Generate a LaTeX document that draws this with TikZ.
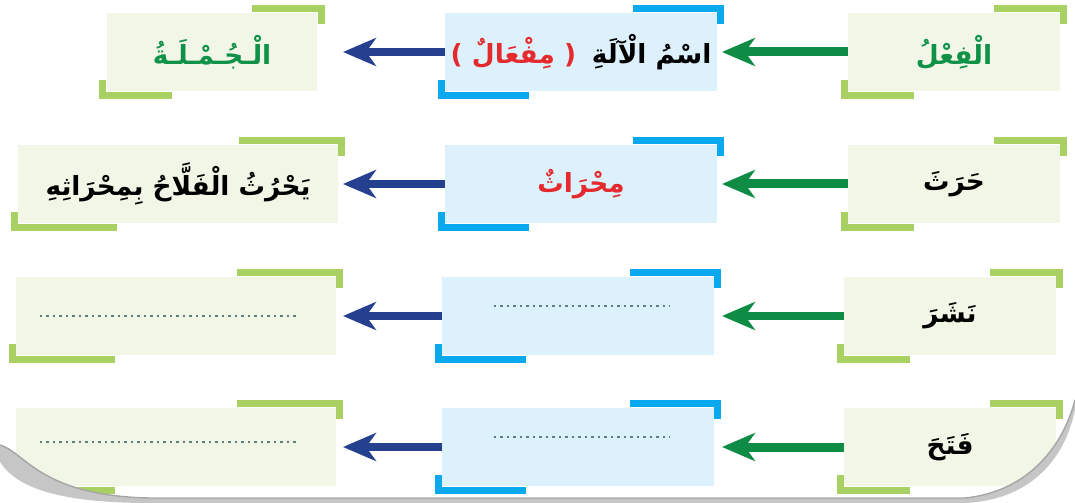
\documentclass[tikz,border=0pt]{standalone}
\usepackage{fontspec}
\usepackage{tikz,xcolor}
\usetikzlibrary{arrows.meta,calc}
\TeXXeTstate=1
\newfontfamily\arabicfont[Script=Arabic]{DejaVu Sans}
\newfontfamily\parenfont{DejaVu Sans}
\definecolor{greenfill}{HTML}{F1F6E7}
\definecolor{greencorner}{HTML}{A9D063}
\definecolor{bluefill}{HTML}{DDF1FC}
\definecolor{bluecorner}{HTML}{0AA8EC}
\definecolor{greenarrow}{HTML}{0E8C46}
\definecolor{bluearrow}{HTML}{24408F}
\definecolor{greentext}{HTML}{0F9147}
\definecolor{redtext}{HTML}{E52A2D}
\definecolor{dotcolor}{HTML}{5E7F80}
\newcommand{\artext}[1]{{\arabicfont\bfseries\beginR #1\endR}}

\begin{document}
\begin{tikzpicture}[x=0.02cm,y=-0.02cm,
    every node/.style={inner sep=0pt,minimum height=1.58cm,font=\fontsize{15}{18}\selectfont},
    verbbox/.style={fill=greenfill,minimum width=4.24cm},
    toolbox/.style={fill=bluefill,minimum width=5.44cm},
    sentbox/.style={fill=greenfill,minimum width=6.4cm},
    greenbr/.style={draw=greencorner,line width=0.14cm},
    bluebr/.style={draw=bluecorner,line width=0.14cm},
    toolarrow/.style={draw=greenarrow,line width=0.18cm,-{Stealth[length=0.66cm,width=0.56cm,inset=0.2cm]}},
    sentarrow/.style={draw=bluearrow,line width=0.17cm,-{Stealth[length=0.66cm,width=0.56cm,inset=0.2cm]}},
    dotline/.style={draw=dotcolor,line width=1.7pt,dash pattern=on 1.5pt off 2.2pt}]
    \useasboundingbox (0,0) rectangle (1075,503);

	% create the nodes
    \node (verb1)[verbbox, text=greentext] at (954,52) {\artext{الْفِعْلُ}};
    \node (tool1)[toolbox] at (581,52) {{\parenfont\bfseries\color{redtext}( \artext{مِفْعَالٌ} )}\ \ \artext{اسْمُ الْآلَةِ}};
    \node (sent1)[verbbox, minimum width=4.22cm, text=greentext] at (212,52) {\artext{الْـجُـمْـلَـةُ}};

    \node (verb2)[verbbox] at (954,184) {\artext{حَرَثَ}};
    \node (tool2)[toolbox, text=redtext] at (581,184) {\artext{مِحْرَاثٌ}};
    \node (sent2)[sentbox] at (178,184) {\artext{يَحْرُثُ الْفَلَّاحُ بِمِحْرَاثِهِ}};

    \node (verb3)[verbbox] at (950,316) {\artext{نَشَرَ}};
    \node (tool3)[toolbox] at (578,316) {};
    \node (sent3)[sentbox] at (176,316) {};

    \node (verb4)[verbbox] at (950,447) {\artext{فَتَحَ}};
    \node (tool4)[toolbox] at (578,447) {};
    \node (sent4)[sentbox] at (176,447) {};

    \coordinate (greentip) at (722,0);
    \coordinate (bluetip) at (343,0);

	% corner marks
    \foreach \n/\c in {verb1/greenbr,tool1/bluebr,sent1/greenbr,verb2/greenbr,tool2/bluebr,sent2/greenbr,
                       verb3/greenbr,tool3/bluebr,sent3/greenbr,verb4/greenbr,tool4/bluebr,sent4/greenbr}{
        \draw[\c] ($(\n.north east)!.31!(\n.north west)+(0,-3.5)$) -| ($(\n.north east)+(3.5,12)$);
        \draw[\c] ($(\n.south west)!.31!(\n.south east)+(0,3.5)$) -| ($(\n.south west)+(-3.5,-12)$);
    }

	% lines to fill in
    \foreach \i/\d in {3/0,4/-5}{
        \draw[dotline] ($(sent\i.west)+(24,\d)$) -- ($(sent\i.east)+(-38,\d)$);
        \draw[dotline] ($(tool\i.west)+(52,-10)$) -- ($(tool\i.east)+(-44,-10)$);
    }

	% connect the nodes
    \foreach \i in {1,...,4}{
        \draw[toolarrow] (verb\i.west) -- (verb\i.west -| greentip);
        \draw[sentarrow] (tool\i.west) -- (tool\i.west -| bluetip);
    }

	% curled page corners
    \fill[white] (0,445) .. controls (25,452) and (40,496) .. (150,498) -- (965,498)
        .. controls (1025,492) and (1062,450) .. (1075,400) -- (1075,503) -- (0,503) -- cycle;
    \fill[gray!45] (0,445) .. controls (25,452) and (40,496) .. (150,498) -- (965,498)
        .. controls (1025,492) and (1062,450) .. (1075,400) -- (1075,410)
        .. controls (1064,462) and (1028,500) .. (965,503) -- (150,503)
        .. controls (40,503) and (12,480) .. (0,462) -- cycle;
    \draw[gray!70, line width=0.8pt] (0,445) .. controls (25,452) and (40,496) .. (150,498) -- (965,498)
        .. controls (1025,492) and (1062,450) .. (1075,400);
\end{tikzpicture}
\end{document}
